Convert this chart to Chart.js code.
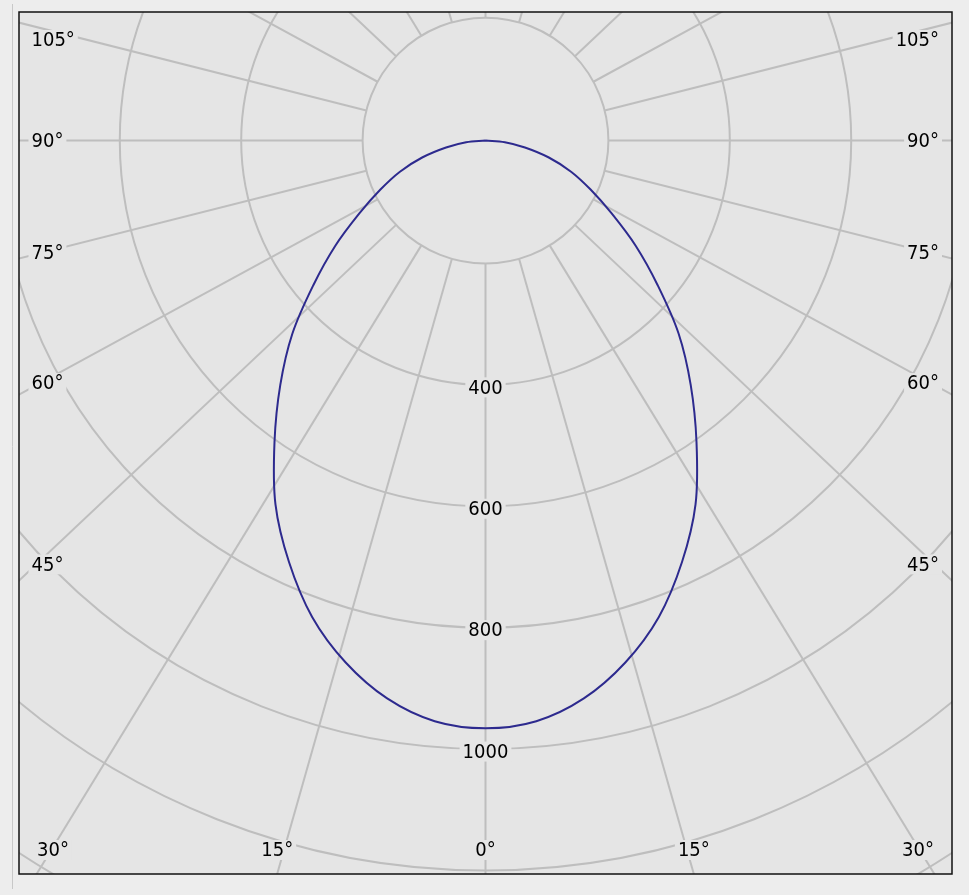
<!DOCTYPE html>
<html>
<head>
<meta charset="utf-8">
<script src="https://cdn.jsdelivr.net/npm/chart.js@4.4.0/dist/chart.umd.min.js"></script>
<style>
html, body { margin: 0; padding: 0; background: #ededed; }
canvas { display: block; }
</style>
</head>
<body>
<canvas id="polar" width="969" height="895"></canvas>
<script>
// gamma angle (deg from nadir) and luminous intensity (cd), same on both half planes
var gammaAngles = [0, 5, 10, 15, 20, 25, 30, 35, 40, 45, 50, 55, 60, 65, 70, 75, 80, 85, 90];
var intensity = [968, 960, 933, 890, 835, 766, 692, 606, 526, 450, 370, 302, 240, 191, 150, 108, 66, 32, 0];

// grid
var ringValues = [200, 400, 600, 800, 1000, 1200, 1400, 1600];
var ringLabels = [400, 600, 800, 1000];
var spokeAngles = [0, 15, 30, 45, 60, 75, 90, 105, 120, 135, 150, 165, 180, 195, 210, 225, 240, 255, 270, 285, 300, 315, 330, 345];
var angleLabels = [-105, -90, -75, -60, -45, -30, -15, 0, 15, 30, 45, 60, 75, 90, 105];

var plotBg = '#e5e5e5';
var gridColor = '#bebebe';
var labelFont = '20px "DejaVu Sans Condensed", "DejaVu Sans", sans-serif';
var spokeStretch = 1.06;  // spokes in the original are slightly wider than true angles

function toXY(a, v) {
    var r = a * Math.PI / 180;
    return { x: v * Math.sin(r), y: -v * Math.cos(r) };
}

var curve = [];
for (var i = gammaAngles.length - 1; i > 0; i--) curve.push(toXY(-gammaAngles[i], intensity[i]));
for (var j = 0; j < gammaAngles.length; j++) curve.push(toXY(gammaAngles[j], intensity[j]));

function spokeDir(a) {
    var r = a * Math.PI / 180;
    var vx = spokeStretch * Math.sin(r), vy = Math.cos(r);
    var n = Math.sqrt(vx * vx + vy * vy);
    return { x: vx / n, y: vy / n };
}

function boxLabel(ctx, txt, x, y) {
    var w = ctx.measureText(txt).width;
    ctx.fillStyle = plotBg;
    ctx.fillRect(x - w / 2 - 3, y - 10, w + 6, 20);
    ctx.fillStyle = '#000';
    ctx.textAlign = 'center';
    ctx.textBaseline = 'middle';
    ctx.fillText(txt, x, y + 1);
}

var polarGrid = {
    id: 'polarGrid',
    beforeDraw: function (chart) {
        var ctx = chart.ctx, area = chart.chartArea;
        var xs = chart.scales.x, ys = chart.scales.y;
        var cx = xs.getPixelForValue(0), cy = ys.getPixelForValue(0);
        var unit = xs.getPixelForValue(1) - cx;

        ctx.save();
        ctx.fillStyle = '#ededed';
        ctx.fillRect(0, 0, chart.width, chart.height);
        ctx.strokeStyle = '#c8c8c8';
        ctx.lineWidth = 1;
        ctx.beginPath();
        ctx.moveTo(12.5, 4);
        ctx.lineTo(12.5, 889);
        ctx.stroke();

        ctx.fillStyle = plotBg;
        ctx.fillRect(area.left, area.top, area.right - area.left, area.bottom - area.top);
        ctx.beginPath();
        ctx.rect(area.left, area.top, area.right - area.left, area.bottom - area.top);
        ctx.clip();

        ctx.strokeStyle = gridColor;
        ctx.lineWidth = 2;
        ringValues.forEach(function (v) {
            ctx.beginPath();
            ctx.arc(cx, cy, v * unit + 1.5, 0, 2 * Math.PI);
            ctx.stroke();
        });
        var r0 = ringValues[0] * unit + 1.5;
        spokeAngles.forEach(function (a) {
            var d = spokeDir(a);
            ctx.beginPath();
            ctx.moveTo(cx + d.x * r0, cy + d.y * r0);
            ctx.lineTo(cx + d.x * 2000, cy + d.y * 2000);
            ctx.stroke();
        });

        ctx.font = labelFont;
        ringLabels.forEach(function (v) {
            boxLabel(ctx, String(v), cx, cy + v * unit + 4);
        });

        angleLabels.forEach(function (a) {
            var d = spokeDir(a);
            var txt = Math.abs(a) + '\u00b0';
            var w = ctx.measureText(txt).width;
            var tSide = d.x !== 0 ? ((d.x < 0 ? area.left : area.right) - cx) / d.x : Infinity;
            var tBottom = d.y > 0 ? (area.bottom - cy) / d.y : Infinity;
            var tx, ty;
            if (tBottom <= tSide) {
                tx = cx + d.x * tBottom;
                tx = Math.max(area.left + 18 + w / 2, Math.min(area.right - 18 - w / 2, tx));
                ty = area.bottom - 24;
            } else {
                ty = cy + d.y * tSide - 23 * Math.cos(a * Math.PI / 180);
                ty = Math.max(area.top + 28, ty);
                tx = d.x < 0 ? area.left + 12.5 + w / 2 : area.right - 13 - w / 2;
            }
            boxLabel(ctx, txt, tx, ty);
        });
        ctx.restore();
    },
    afterDraw: function (chart) {
        var ctx = chart.ctx, area = chart.chartArea;
        ctx.save();
        ctx.strokeStyle = '#111';
        ctx.lineWidth = 1.5;
        ctx.strokeRect(area.left, area.top, area.right - area.left, area.bottom - area.top);
        ctx.restore();
    }
};

new Chart(document.getElementById('polar').getContext('2d'), {
    type: 'scatter',
    data: {
        datasets: [{
            data: curve,
            showLine: true,
            borderColor: '#2d2a8e',
            borderWidth: 2,
            pointRadius: 0,
            tension: 0.35,
            fill: false
        }]
    },
    options: {
        responsive: false,
        animation: false,
        devicePixelRatio: 1,
        events: [],
        layout: { padding: { left: 19, top: 12, right: 17, bottom: 21 } },
        scales: {
            x: { type: 'linear', display: false, min: -768.5, max: 768.5 },
            y: { type: 'linear', display: false, min: -1208, max: 211.7 }
        },
        plugins: { legend: { display: false }, tooltip: { enabled: false } }
    },
    plugins: [polarGrid]
});
</script>
</body>
</html>
